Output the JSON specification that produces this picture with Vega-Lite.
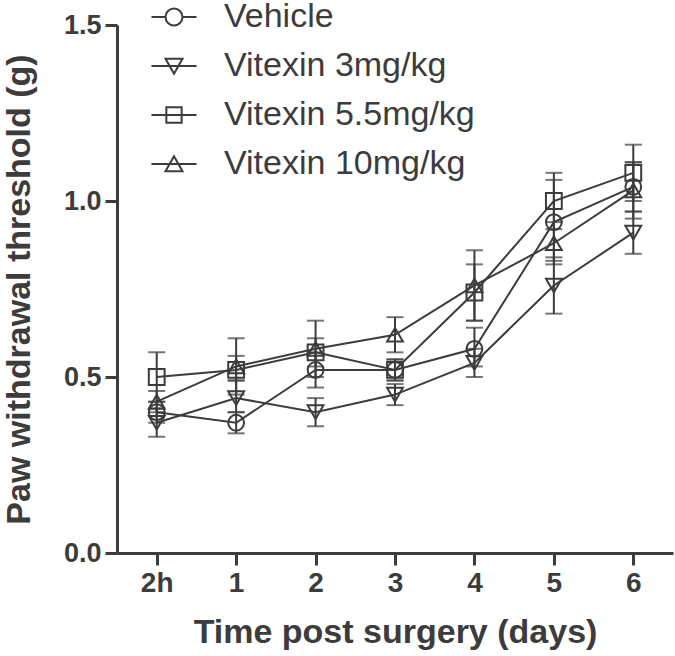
{
  "$schema": "https://vega.github.io/schema/vega-lite/v6.json",
  "width": 556,
  "height": 528,
  "autosize": {"type": "none"},
  "padding": {"left": 117, "top": 25, "right": 2, "bottom": 103},
  "background": "white",
  "config": {
    "view": {"stroke": null},
    "font": "Liberation Sans",
    "axis": {
      "domainColor": "#3c3c3c", "domainWidth": 3,
      "tickColor": "#3c3c3c", "tickWidth": 3, "tickSize": 12,
      "labelColor": "#3c3c3c", "labelFont": "Liberation Sans", "labelFontWeight": "bold",
      "titleColor": "#3c3c3c", "titleFont": "Liberation Sans", "titleFontWeight": "bold",
      "grid": false
    }
  },
  "data": {
    "values": [
      {"group": "Vehicle", "time": "2h", "mean": 0.40, "lo": 0.37, "hi": 0.43},
      {"group": "Vehicle", "time": "1", "mean": 0.37, "lo": 0.34, "hi": 0.40},
      {"group": "Vehicle", "time": "2", "mean": 0.52, "lo": 0.47, "hi": 0.57},
      {"group": "Vehicle", "time": "3", "mean": 0.52, "lo": 0.49, "hi": 0.55},
      {"group": "Vehicle", "time": "4", "mean": 0.58, "lo": 0.53, "hi": 0.64},
      {"group": "Vehicle", "time": "5", "mean": 0.94, "lo": 0.83, "hi": 1.06},
      {"group": "Vehicle", "time": "6", "mean": 1.04, "lo": 0.97, "hi": 1.11},
      {"group": "Vitexin 3mg/kg", "time": "2h", "mean": 0.37, "lo": 0.33, "hi": 0.41},
      {"group": "Vitexin 3mg/kg", "time": "1", "mean": 0.44, "lo": 0.40, "hi": 0.49},
      {"group": "Vitexin 3mg/kg", "time": "2", "mean": 0.40, "lo": 0.36, "hi": 0.44},
      {"group": "Vitexin 3mg/kg", "time": "3", "mean": 0.45, "lo": 0.42, "hi": 0.48},
      {"group": "Vitexin 3mg/kg", "time": "4", "mean": 0.54, "lo": 0.50, "hi": 0.58},
      {"group": "Vitexin 3mg/kg", "time": "5", "mean": 0.76, "lo": 0.68, "hi": 0.84},
      {"group": "Vitexin 3mg/kg", "time": "6", "mean": 0.91, "lo": 0.85, "hi": 0.97},
      {"group": "Vitexin 5.5mg/kg", "time": "2h", "mean": 0.50, "lo": 0.43, "hi": 0.57},
      {"group": "Vitexin 5.5mg/kg", "time": "1", "mean": 0.52, "lo": 0.49, "hi": 0.56},
      {"group": "Vitexin 5.5mg/kg", "time": "2", "mean": 0.57, "lo": 0.53, "hi": 0.61},
      {"group": "Vitexin 5.5mg/kg", "time": "3", "mean": 0.52, "lo": 0.49, "hi": 0.55},
      {"group": "Vitexin 5.5mg/kg", "time": "4", "mean": 0.74, "lo": 0.66, "hi": 0.82},
      {"group": "Vitexin 5.5mg/kg", "time": "5", "mean": 1.00, "lo": 0.92, "hi": 1.08},
      {"group": "Vitexin 5.5mg/kg", "time": "6", "mean": 1.08, "lo": 1.00, "hi": 1.16},
      {"group": "Vitexin 10mg/kg", "time": "2h", "mean": 0.43, "lo": 0.40, "hi": 0.46},
      {"group": "Vitexin 10mg/kg", "time": "1", "mean": 0.53, "lo": 0.45, "hi": 0.61},
      {"group": "Vitexin 10mg/kg", "time": "2", "mean": 0.58, "lo": 0.50, "hi": 0.66},
      {"group": "Vitexin 10mg/kg", "time": "3", "mean": 0.62, "lo": 0.57, "hi": 0.67},
      {"group": "Vitexin 10mg/kg", "time": "4", "mean": 0.76, "lo": 0.66, "hi": 0.86},
      {"group": "Vitexin 10mg/kg", "time": "5", "mean": 0.88, "lo": 0.82, "hi": 0.94},
      {"group": "Vitexin 10mg/kg", "time": "6", "mean": 1.03, "lo": 0.95, "hi": 1.11}
    ]
  },
  "encoding": {
    "x": {
      "field": "time", "type": "ordinal",
      "sort": ["2h", "1", "2", "3", "4", "5", "6"],
      "scale": {"type": "point", "padding": 0.5},
      "axis": {"title": "Time post surgery (days)", "labelAngle": 0, "labelFontSize": 28, "labelPadding": 4, "titleFontSize": 34, "titlePadding": 18}
    },
    "y": {
      "field": "mean", "type": "quantitative",
      "scale": {"domain": [0, 1.5], "nice": false},
      "axis": {"values": [0, 0.5, 1, 1.5], "format": ".1f", "title": "Paw withdrawal threshold (g)", "labelFontSize": 27, "labelPadding": 4, "titleFontSize": 34, "titlePadding": 27}
    }
  },
  "resolve": {"scale": {"shape": "independent"}, "legend": {"shape": "independent"}},
  "layer": [
    {
      "mark": {"type": "line", "color": "#3c3c3c", "strokeWidth": 2},
      "encoding": {
        "detail": {"field": "group"}
      }
    },
    {
      "mark": {"type": "rule", "color": "#3c3c3c", "strokeWidth": 2},
      "encoding": {
        "y": {"field": "lo", "type": "quantitative"},
        "y2": {"field": "hi"}
      }
    },
    {
      "mark": {"type": "tick", "color": "#3c3c3c", "thickness": 2, "size": 17, "orient": "horizontal"},
      "encoding": {"y": {"field": "lo", "type": "quantitative"}}
    },
    {
      "mark": {"type": "tick", "color": "#3c3c3c", "thickness": 2, "size": 17, "orient": "horizontal"},
      "encoding": {"y": {"field": "hi", "type": "quantitative"}}
    },
    {
      "mark": {"type": "point", "filled": false, "color": "#3c3c3c", "strokeWidth": 2, "size": 250, "opacity": 1},
      "encoding": {
        "shape": {
          "field": "group", "type": "nominal",
          "scale": {
            "domain": ["Vehicle", "Vitexin 3mg/kg", "Vitexin 5.5mg/kg", "Vitexin 10mg/kg"],
            "range": ["circle", "triangle-down", "square", "triangle-up"]
          },
          "legend": null
        }
      }
    },
    {
      "mark": {"type": "point", "filled": false, "color": "#3c3c3c", "strokeWidth": 2, "size": 0, "opacity": 1},
      "encoding": {
        "shape": {
          "field": "group", "type": "nominal",
          "scale": {
            "domain": ["Vehicle", "Vitexin 3mg/kg", "Vitexin 5.5mg/kg", "Vitexin 10mg/kg"],
            "range": [
              "M-2.65,0H-1M1,0H2.65M1,0A1,1,0,1,1,-1,0A1,1,0,1,1,1,0",
              "M-2.65,0H2.65M-1,-0.85L1,-0.85L0,0.9Z",
              "M-2.65,0H2.65M-0.9,-0.9H0.9V0.9H-0.9Z",
              "M-2.65,0H2.65M-1,0.85L1,0.85L0,-0.9Z"
            ]
          },
          "legend": {
            "title": null,
            "orient": "none",
            "legendX": 40,
            "legendY": -25,
            "padding": 0,
            "symbolSize": 289,
            "symbolStrokeWidth": 2,
            "symbolStrokeColor": "#3c3c3c",
            "symbolFillColor": "transparent",
            "symbolOpacity": 1,
            "labelFontSize": 34,
            "labelFont": "Liberation Sans",
            "labelColor": "#3c3c3c",
            "labelOffset": 33,
            "rowPadding": 15,
            "labelLimit": 400
          }
        }
      }
    }
  ]
}
